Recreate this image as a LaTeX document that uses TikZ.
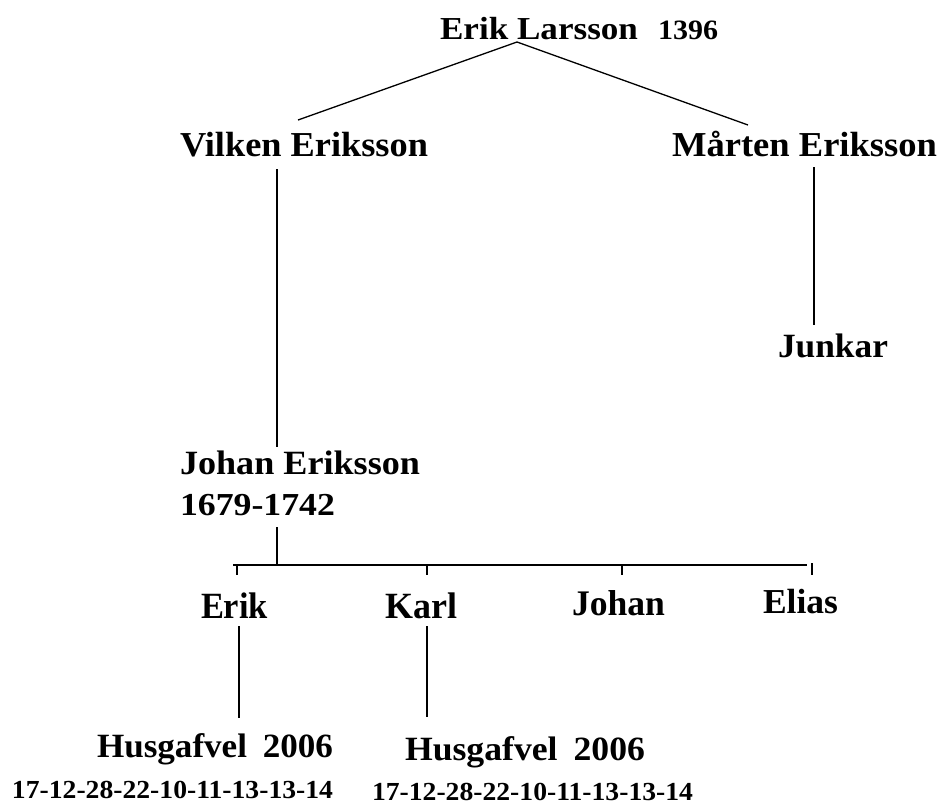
\documentclass[tikz,border=0pt]{standalone}
\usepackage{fontspec}
\setmainfont{Liberation Serif}
\usepackage{graphicx}
\newcommand\fittext[3]{{\fontsize{#1pt}{#1pt}\selectfont\resizebox{#2pt}{\height}{#3}}}
\begin{document}
\begin{tikzpicture}[x=1pt,y=-1pt,
  lbl/.style={anchor=base west,inner sep=0pt,outer sep=0pt,font=\bfseries},
  ln/.style={line width=1.6pt,black},
  sl/.style={line width=1.3pt,black}]
\useasboundingbox (0,0) rectangle (944,804);
% texts
\node[lbl] (el) at (440,39) {\fittext{32}{198}{Erik Larsson}};
\node[lbl] (yr) at (658,39) {\fittext{28}{60}{1396}};
\node[lbl] (ve) at (180,156) {\fittext{35}{248}{Vilken Eriksson}};
\node[lbl] (me) at (672,156) {\fittext{35}{265}{Mårten Eriksson}};
\node[lbl] (ju) at (778,357) {\fittext{34}{110}{Junkar}};
\node[lbl] (je) at (180,474) {\fittext{34}{240}{Johan Eriksson}};
\node[lbl] (jd) at (180,515) {\fittext{32}{155}{1679-1742}};
\node[lbl] (erik) at (201,618) {\fittext{37}{67}{Erik}};
\node[lbl] (karl) at (385,618) {\fittext{37}{72}{Karl}};
\node[lbl] (johan) at (572,615) {\fittext{36}{93}{Johan}};
\node[lbl] (elias) at (763,613) {\fittext{35}{75}{Elias}};
\node[lbl] (h1) at (97,757) {\fittext{34}{236}{Husgafvel\hspace{0.45em}2006}};
\node[lbl] (h2) at (405,760) {\fittext{34}{240}{Husgafvel\hspace{0.45em}2006}};
\node[lbl] (n1) at (12,798) {\fittext{26}{321}{17-12-28-22-10-11-13-13-14}};
\node[lbl] (n2) at (372,800) {\fittext{26}{321}{17-12-28-22-10-11-13-13-14}};
% connector end points
\coordinate (elB) at (517,42);
\coordinate (veT) at (298,120);
\coordinate (meT) at (748,125);
\coordinate (veB) at (277,169);
\coordinate (jeT) at (277,447);
\coordinate (meB) at (814,167);
\coordinate (juT) at (814,325);
\coordinate (jdB) at (277,527);
\coordinate (barJ) at (277,565);
\coordinate (barL) at (233,565);
\coordinate (barR) at (807,565);
\coordinate (tErik) at (237,565);
\coordinate (tErikE) at (237,575);
\coordinate (tKarl) at (427,565);
\coordinate (tKarlE) at (427,575);
\coordinate (tJohan) at (622,565);
\coordinate (tJohanE) at (622,575);
\coordinate (tElias) at (812,563);
\coordinate (tEliasE) at (812,575);
\coordinate (erikB) at (239,626);
\coordinate (h1T) at (239,718);
\coordinate (karlB) at (427,626);
\coordinate (h2T) at (427,717);
% connectors
\draw[sl] (veT) -- (elB) -- (meT);
\draw[ln] (veB) -- (jeT);
\draw[ln] (meB) -- (juT);
\draw[ln] (jdB) -- (barJ);
\draw[ln] (barL) -- (barR);
\draw[ln] (tErik) -- (tErikE);
\draw[ln] (tKarl) -- (tKarlE);
\draw[ln] (tJohan) -- (tJohanE);
\draw[ln] (tElias) -- (tEliasE);
\draw[ln] (erikB) -- (h1T);
\draw[ln] (karlB) -- (h2T);
\end{tikzpicture}
\end{document}
